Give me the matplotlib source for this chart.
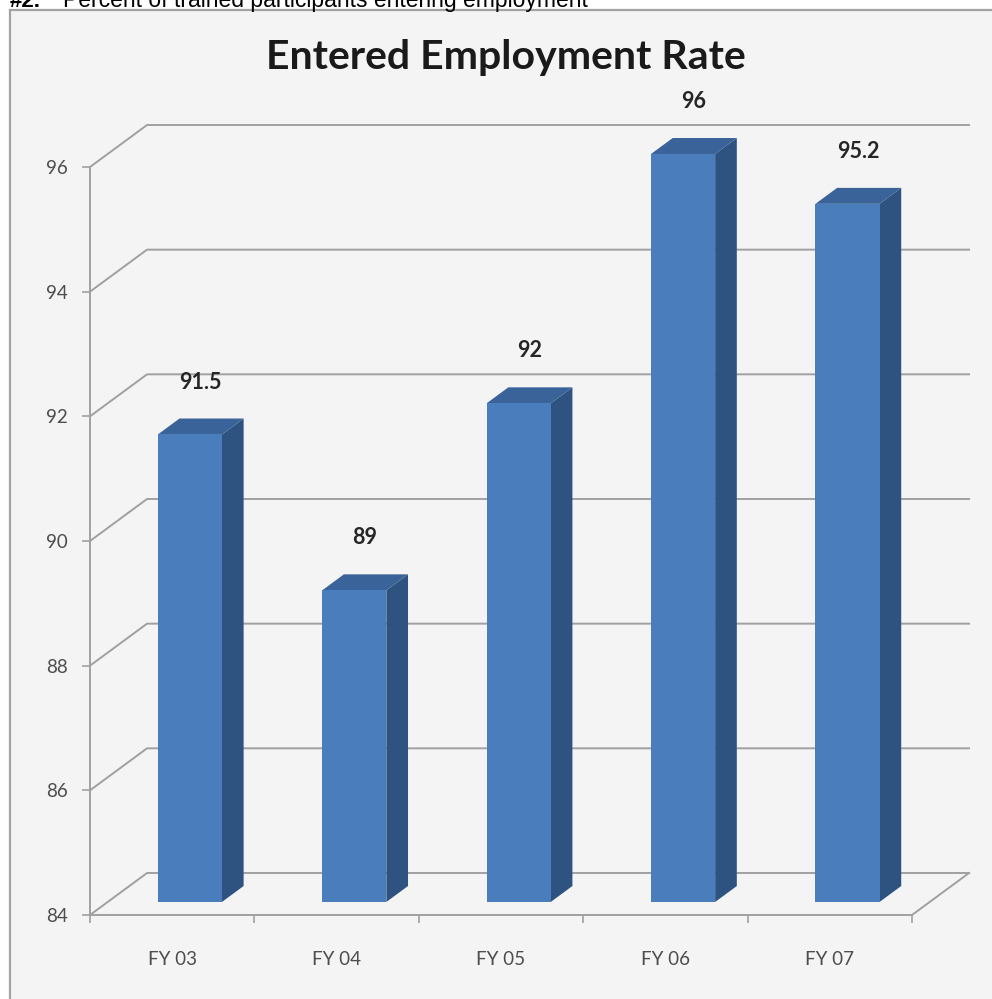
import matplotlib.pyplot as plt
from matplotlib.patches import Polygon, Rectangle
from matplotlib.lines import Line2D

# 차트 데이터
categories = ['FY 03', 'FY 04', 'FY 05', 'FY 06', 'FY 07']
rates = [91.5, 89, 92, 96, 95.2]
y_ticks = [84, 86, 88, 90, 92, 94, 96]
title = 'Entered Employment Rate'
caption_num = '#2.'
caption = 'Percent of trained participants entering employment'

W, H = 992, 999
fig = plt.figure(figsize=(W / 100, H / 100), dpi=100)
fig.patch.set_facecolor('white')

# 차트 영역 테두리 (오른쪽/아래는 잘려 있음)
fig.patches.append(Rectangle((10 / W, -0.02), 1.05, 1 - 10 / H + 0.02,
                             transform=fig.transFigure, facecolor='#f4f4f4',
                             edgecolor='#a3a3a3', linewidth=1.6, zorder=-1))

# 위쪽에 잘린 설명 문구
fig.text(10 / W, 1 - 7 / H, caption_num, fontsize=16, fontweight='bold',
         family='Liberation Sans', va='baseline', ha='left', color='black')
fig.text(63 / W, 1 - 7 / H, caption, fontsize=16.5,
         family='Liberation Sans', va='baseline', ha='left', color='black')

fig.text(506 / W, 1 - 57 / H, title, fontsize=29.5, fontweight='bold',
         family='Lato', ha='center', va='center', color='#1a1a1a')

# 앞면 좌표축
ax = fig.add_axes([90 / W, 1 - 915 / H, 822 / W, 748 / H])
ax.patch.set_visible(False)
ax.set_xlim(0, len(categories))
ax.set_ylim(y_ticks[0], y_ticks[-1])

# 3D 깊이 방향 오프셋 (데이터 단위)
DX = 0.347
DY = 0.674


def proj(x, y, d):
    return (x + d * DX, y + d * DY)


grid_kw = dict(color='#a0a0a0', linewidth=1.4, clip_on=False, zorder=1)
n = len(categories)
for v in y_ticks:
    p0 = (0, v)
    p1 = proj(0, v, 1)
    p2 = proj(n, v, 1)
    ax.add_line(Line2D([p0[0], p1[0], p2[0]], [p0[1], p1[1], p2[1]], **grid_kw))
# 바닥 오른쪽 모서리
q = proj(n, y_ticks[0], 1)
ax.add_line(Line2D([n, q[0]], [y_ticks[0], q[1]], **grid_kw))

# 3D 막대
bw = 0.39
d0, d1 = 0.31, 0.69
base = y_ticks[0]
for i, v in enumerate(rates):
    x0 = i + 0.5 - bw / 2
    x1 = i + 0.5 + bw / 2
    front = [proj(x0, base, d0), proj(x1, base, d0), proj(x1, v, d0), proj(x0, v, d0)]
    side = [proj(x1, base, d0), proj(x1, base, d1), proj(x1, v, d1), proj(x1, v, d0)]
    top = [proj(x0, v, d0), proj(x1, v, d0), proj(x1, v, d1), proj(x0, v, d1)]
    ax.add_patch(Polygon(side, closed=True, facecolor='#2f5381', edgecolor='none',
                         clip_on=False, zorder=3))
    ax.add_patch(Polygon(top, closed=True, facecolor='#3a639a', edgecolor='none',
                         clip_on=False, zorder=3))
    ax.add_patch(Polygon(front, closed=True, facecolor='#4a7dbb', edgecolor='none',
                         clip_on=False, zorder=4))
    lx, ly = proj(i + 0.5, v, 0.5)
    ax.annotate(f'{v:g}', (lx, ly), xytext=(0, 32), textcoords='offset points',
                ha='center', va='center', fontsize=15.5, fontweight='bold',
                family='Lato', color='#262626', annotation_clip=False, zorder=5)

# 축 스타일
for s in ['top', 'right']:
    ax.spines[s].set_visible(False)
for s in ['left', 'bottom']:
    ax.spines[s].set_color('#a0a0a0')
    ax.spines[s].set_linewidth(1.4)

ax.set_yticks(y_ticks)
ax.set_yticklabels([str(t) for t in y_ticks])
ax.tick_params(axis='y', direction='out', length=6, width=1.2, color='#a0a0a0',
               pad=10, labelsize=13.5, labelcolor='#4d4d4d')

ax.set_xticks(range(n + 1))
ax.set_xticklabels([])
ax.set_xticks([i + 0.5 for i in range(n)], minor=True)
ax.set_xticklabels(categories, minor=True)
ax.tick_params(axis='x', which='major', direction='out', length=6, width=1.2,
               color='#a0a0a0')
ax.tick_params(axis='x', which='minor', length=0, pad=26, labelsize=13.5,
               labelcolor='#4d4d4d')
for lab in ax.get_xticklabels(minor=True) + ax.get_yticklabels():
    lab.set_family('Lato')

fig.savefig('out.png', dpi=100)
